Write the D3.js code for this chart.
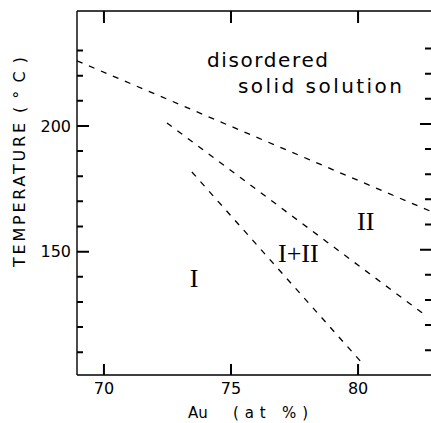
<!DOCTYPE html>
<html>
<head>
<meta charset="utf-8">
<script src="https://cdn.jsdelivr.net/npm/d3@7"></script>
<style>
  html, body { margin: 0; padding: 0; background: #fff; }
  svg { display: block; }
</style>
</head>
<body>
<svg id="chart" width="431" height="423"></svg>
<script>
// Phase boundaries of the Au-rich ordering region (dashed lines)
const boundaryNames = ["upper", "middle", "lower"];
const boundaryAu = [
  [68.94, 82.87],
  [72.48, 82.64],
  [73.46, 80.16]
];
const boundaryT = [
  [225.9, 166.0],
  [201.2, 124.8],
  [181.7, 105.7]
];

// Phase-field labels
const regionText = ["I", "I+II", "II"];
const regionAu = [73.55, 77.65, 80.3];
const regionT = [136.0, 145.8, 158.8];

// Axis ticks
const xTicks = [70, 75, 80];
const yMajorTicks = [150, 200];
const yMinorTicks = [110, 120, 130, 140, 160, 170, 180, 190, 210, 220, 230];

const svg = d3.select("#chart");
const plotL = 77, plotR = 431, plotT = 11, plotB = 375;

const x = d3.scaleLinear().domain([68.94, 82.87]).range([plotL, plotR]);
const y = d3.scaleLinear().domain([100.96, 245.7]).range([plotB, plotT]);

const ink = "#000000";

// Frame (left, bottom, top)
const frame = d3.path();
frame.moveTo(plotL, plotT); frame.lineTo(plotL, plotB);
frame.moveTo(plotL, plotB); frame.lineTo(plotR, plotB);
frame.moveTo(plotL, plotT); frame.lineTo(plotR, plotT);
svg.append("path")
  .attr("d", frame.toString())
  .attr("fill", "none")
  .attr("stroke", ink)
  .attr("stroke-width", 1.4);

// Inward tick marks on all four sides
const tk = d3.path();
xTicks.forEach(v => {
  tk.moveTo(x(v), plotB); tk.lineTo(x(v), plotB - 11);
  tk.moveTo(x(v), plotT); tk.lineTo(x(v), plotT + 12);
});
yMajorTicks.forEach(v => {
  tk.moveTo(plotL, y(v)); tk.lineTo(plotL + 12, y(v));
  tk.moveTo(plotR, y(v) - 2); tk.lineTo(plotR - 11, y(v) - 2);
});
yMinorTicks.forEach(v => {
  tk.moveTo(plotL, y(v)); tk.lineTo(plotL + 6, y(v));
  tk.moveTo(plotR, y(v) - 2); tk.lineTo(plotR - 6, y(v) - 2);
});
svg.append("path")
  .attr("d", tk.toString())
  .attr("fill", "none")
  .attr("stroke", ink)
  .attr("stroke-width", 2);

// Tick labels
svg.append("g").selectAll("text").data(xTicks).join("text")
  .attr("x", d => x(d)).attr("y", 394)
  .attr("text-anchor", "middle")
  .attr("fill", ink)
  .attr("font-family", "DejaVu Sans").attr("font-size", 16)
  .text(d3.format("d"));
svg.append("g").selectAll("text").data(yMajorTicks).join("text")
  .attr("x", 71).attr("y", d => y(d)).attr("dy", "0.36em")
  .attr("text-anchor", "end")
  .attr("fill", ink)
  .attr("font-family", "DejaVu Sans").attr("font-size", 16)
  .text(d3.format("d"));

// Axis titles
svg.append("text").attr("x", 188).attr("y", 418).attr("fill", ink)
  .attr("font-family", "DejaVu Sans").attr("font-size", 15).text("Au");
svg.append("text").attr("x", 233).attr("y", 418).attr("fill", ink)
  .attr("font-family", "DejaVu Sans").attr("font-size", 15)
  .attr("textLength", 75).attr("lengthAdjust", "spacing").text("(at %)");

svg.append("text").attr("transform", "translate(25,267) rotate(-90)").attr("fill", ink)
  .attr("font-family", "DejaVu Sans").attr("font-size", 16)
  .attr("textLength", 144).attr("lengthAdjust", "spacing").text("TEMPERATURE");
svg.append("text").attr("transform", "translate(25,113) rotate(-90)").attr("fill", ink)
  .attr("font-family", "DejaVu Sans").attr("font-size", 16)
  .attr("textLength", 56).attr("lengthAdjust", "spacing").text("(°C)");

// Dashed phase boundaries
const line = d3.line().x(d => x(d[0])).y(d => y(d[1]));
svg.append("g").selectAll("path")
  .data(boundaryNames.map((n, i) => ({ name: n, pts: boundaryAu[i].map((a, j) => [a, boundaryT[i][j]]) })))
  .join("path")
  .attr("d", d => line(d.pts))
  .attr("fill", "none")
  .attr("stroke", ink)
  .attr("stroke-width", 1.3)
  .attr("stroke-dasharray", "6,7");

// Region labels
svg.append("g").selectAll("text")
  .data(regionText.map((t, i) => ({ t, a: regionAu[i], T: regionT[i] })))
  .join("text")
  .attr("x", d => x(d.a))
  .attr("y", d => y(d.T))
  .attr("text-anchor", "middle")
  .attr("fill", ink)
  .attr("font-family", "Liberation Serif")
  .attr("font-size", 26)
  .text(d => d.t);

// Annotation for the high-temperature field
svg.append("text").attr("x", 207).attr("y", 67).attr("fill", ink)
  .attr("font-family", "DejaVu Sans").attr("font-size", 20)
  .attr("textLength", 121).attr("lengthAdjust", "spacing").text("disordered");
svg.append("text").attr("x", 238).attr("y", 93).attr("fill", ink)
  .attr("font-family", "DejaVu Sans").attr("font-size", 20)
  .attr("textLength", 164).attr("lengthAdjust", "spacing").text("solid solution");
</script>
</body>
</html>
